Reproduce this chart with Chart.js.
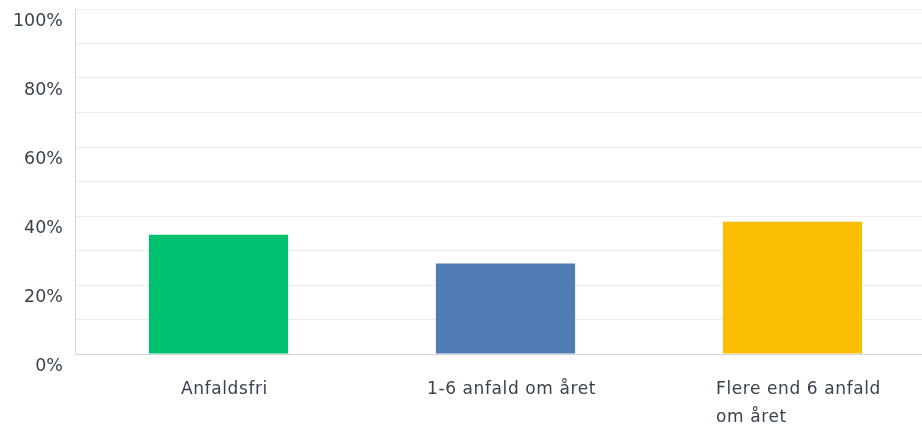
<!DOCTYPE html>
<html>
<head>
<meta charset="utf-8">
<script src="https://cdn.jsdelivr.net/npm/chart.js@4.4.0/dist/chart.umd.min.js"></script>
<style>
  html, body { margin: 0; padding: 0; background: #fff; overflow: hidden; }
  #wrap { width: 936px; height: 428px; }
</style>
</head>
<body>
<div id="wrap"><canvas id="barchart"></canvas></div>
<script>
var categories = ["Anfaldsfri", "1-6 anfald om året", ["Flere end 6 anfald", "om året"]];
var percentages = [34.6, 26.2, 38.3];
var barColors = ["#00BF6F", "#507CB6", "#F9BE00"];
var yTickLabels = [0, 20, 40, 60, 80, 100];

var textColor = '#38434e';
var fontFamily = '"DejaVu Sans", sans-serif';

// x labels: block centred under the bar, lines left-aligned inside it
var xLabelPlugin = {
    id: 'xLabels',
    afterDraw: function (chart) {
        var ctx = chart.ctx;
        var xs = chart.scales.x;
        ctx.save();
        ctx.font = '17px ' + fontFamily;
        ctx.fillStyle = textColor;
        ctx.textAlign = 'left';
        ctx.textBaseline = 'middle';
        if ('letterSpacing' in ctx) ctx.letterSpacing = '0.6px';
        categories.forEach(function (label, i) {
            var lines = [].concat(label);
            var w = Math.max.apply(null, lines.map(function (l) { return ctx.measureText(l).width; }));
            var left = xs.getPixelForTick(i) - w / 2 + 6;
            lines.forEach(function (line, j) {
                ctx.fillText(line, left, xs.top + 35.5 + j * 28.5);
            });
        });
        ctx.restore();
    }
};

var ctx = document.getElementById("barchart").getContext('2d');
var chart = new Chart(ctx, {
    type: 'bar',
    data: {
        labels: categories,
        datasets: [{
            data: percentages,
            backgroundColor: barColors,
            borderWidth: 0,
            barPercentage: 0.485,
            categoryPercentage: 1
        }]
    },
    options: {
        responsive: true,
        maintainAspectRatio: false,
        animation: false,
        layout: { padding: 0 },
        plugins: {
            legend: { display: false },
            tooltip: { enabled: false }
        },
        scales: {
            x: {
                grid: { display: false, drawTicks: false },
                border: { display: true, color: '#d3d3d3', width: 1 },
                ticks: { color: 'rgba(0,0,0,0)', font: { family: fontFamily, size: 16 } },
                afterFit: function (s) { s.height = 74; }
            },
            y: {
                min: 0,
                max: 100,
                grid: { color: '#ececec', drawTicks: false },
                border: { display: true, color: '#d3d3d3', width: 1 },
                ticks: {
                    stepSize: 10,
                    padding: 12,
                    labelOffset: 12.5,
                    color: textColor,
                    font: { family: fontFamily, size: 17.5, lineHeight: 1.0 },
                    callback: function (v) { return yTickLabels.indexOf(v) >= 0 ? v + '%' : ''; }
                },
                afterFit: function (s) { s.width = 75; s.paddingTop = 9; }
            }
        }
    },
    plugins: [xLabelPlugin]
});
</script>
</body>
</html>
